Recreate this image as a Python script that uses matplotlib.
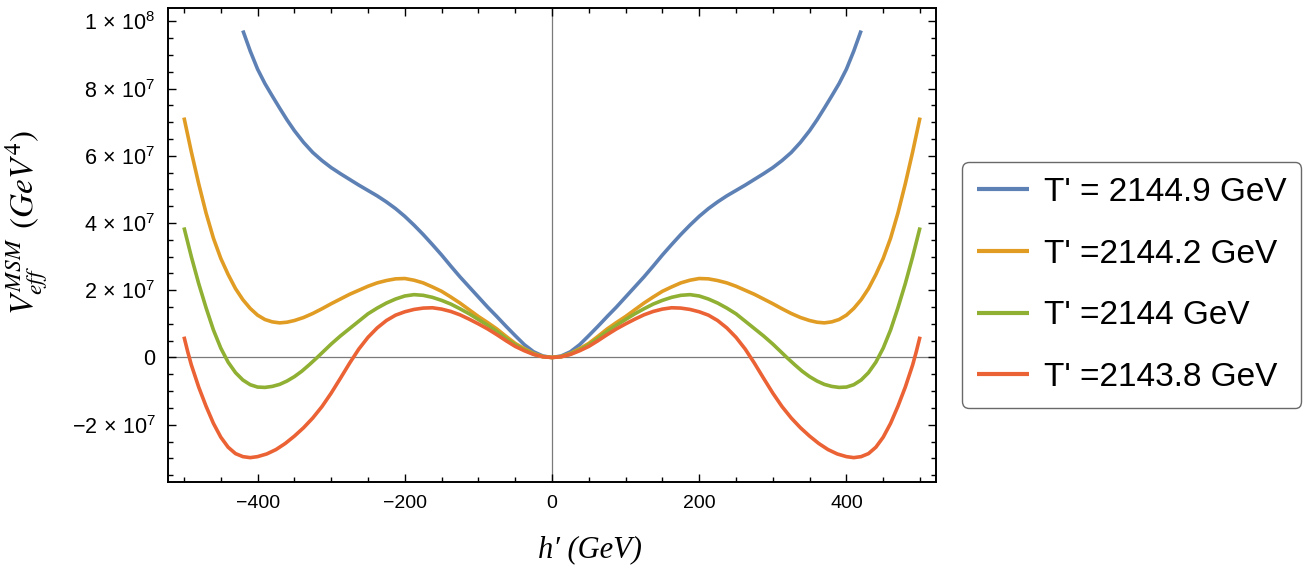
import numpy as np
import matplotlib
matplotlib.use("Agg")
import matplotlib.pyplot as plt
from matplotlib.ticker import MultipleLocator, FuncFormatter

# ---------------------------------------------------------
#  data (h' >= 0 half, curves are symmetric)
#  V values in units of 1e7 GeV^4
# ---------------------------------------------------------
h_blue = [0, 12.5, 25, 37.5, 50, 62.5, 75, 87.5, 100, 112.5, 125, 137.5, 150, 162.5, 175, 187.5,
          200, 212.5, 225, 237.5, 250, 262.5, 275, 287.5, 300, 312.5, 325, 337.5, 350, 360, 370,
          380, 390, 400, 410, 420]
v_blue = [0, 0.045, 0.17, 0.38, 0.65, 0.93, 1.22, 1.5, 1.8, 2.1, 2.4, 2.72, 3.05, 3.36, 3.66, 3.94,
          4.2, 4.43, 4.63, 4.81, 4.97, 5.13, 5.3, 5.47, 5.65, 5.86, 6.1, 6.4, 6.75, 7.07, 7.42,
          7.78, 8.15, 8.58, 9.12, 9.73]

h_orange = [0, 12.5, 25, 37.5, 50, 62.5, 75, 87.5, 100, 112.5, 125, 137.5, 150, 162.5, 175, 187.5,
            200, 212.5, 225, 237.5, 250, 262.5, 275, 287.5, 300, 312.5, 325, 337.5, 350, 360, 370,
            380, 390, 400, 410, 420, 430, 440, 450, 460, 470, 480, 490, 500]
v_orange = [0, 0.03, 0.12, 0.26, 0.42, 0.63, 0.85, 1.04, 1.22, 1.42, 1.62, 1.8, 1.97, 2.1, 2.22, 2.3,
            2.35, 2.34, 2.29, 2.22, 2.12, 2.0, 1.88, 1.74, 1.6, 1.45, 1.31, 1.19, 1.1, 1.05, 1.03,
            1.06, 1.13, 1.26, 1.46, 1.72, 2.05, 2.47, 2.95, 3.55, 4.3, 5.17, 6.12, 7.14]

h_green = [0, 12.5, 25, 37.5, 50, 62.5, 75, 87.5, 100, 112.5, 125, 137.5, 150, 162.5, 175, 187.5,
           200, 212.5, 225, 237.5, 250, 262.5, 275, 287.5, 300, 310, 320, 330, 340, 350, 360, 370,
           380, 390, 400, 410, 420, 430, 440, 450, 460, 470, 480, 490, 500]
v_green = [0, 0.025, 0.1, 0.23, 0.38, 0.57, 0.78, 0.96, 1.13, 1.3, 1.45, 1.59, 1.7, 1.79, 1.85, 1.87,
           1.83, 1.74, 1.62, 1.47, 1.3, 1.08, 0.86, 0.64, 0.4, 0.19, -0.02, -0.22, -0.41, -0.57, -0.7, -0.8,
           -0.86, -0.89, -0.88, -0.81, -0.67, -0.45, -0.14, 0.28, 0.82, 1.48, 2.2, 3.0, 3.87]

h_red = [0, 12.5, 25, 37.5, 50, 62.5, 75, 87.5, 100, 112.5, 125, 137.5, 150, 162.5, 175, 187.5,
         200, 212.5, 225, 237.5, 250, 262.5, 275, 287.5, 300, 312.5, 325, 337.5, 350, 362.5, 375,
         387.5, 400, 410, 420, 430, 440, 450, 460, 470, 480, 490, 495, 500]
v_red = [0, 0.02, 0.09, 0.2, 0.33, 0.5, 0.68, 0.85, 1.0, 1.14, 1.27, 1.37, 1.44, 1.48, 1.47, 1.43,
         1.36, 1.26, 1.1, 0.88, 0.6, 0.25, -0.17, -0.62, -1.06, -1.46, -1.8, -2.09, -2.34, -2.56, -2.74,
         -2.87, -2.95, -2.98, -2.95, -2.86, -2.67, -2.37, -1.96, -1.45, -0.88, -0.22, 0.18, 0.62]

labels = ["T' = 2144.9 GeV", "T' =2144.2 GeV", "T' =2144 GeV", "T' =2143.8 GeV"]
colors = ["#5E81B5", "#E19C24", "#8FB032", "#EB6235"]

xticks = [-400, -200, 0, 200, 400]
yticks = [-2e7, 0, 2e7, 4e7, 6e7, 8e7, 1e8]

# ---------------------------------------------------------
plt.rcParams['font.family'] = ['Liberation Sans', 'DejaVu Sans']
plt.rcParams['mathtext.fontset'] = 'custom'
plt.rcParams['mathtext.rm'] = 'Liberation Sans'
plt.rcParams['mathtext.it'] = 'Liberation Sans:italic'


def mirror(h, v):
    h = np.asarray(h, float)
    v = np.asarray(v, float) * 1e7
    return np.concatenate([-h[::-1], h[1:]]), np.concatenate([v[::-1], v[1:]])


fig = plt.figure(figsize=(13.07, 5.70), dpi=100)
ax = fig.add_axes([168/1307, 88/570, 768/1307, 474/570])

ax.axhline(0, color='#7a7a7a', lw=0.9, zorder=1)
ax.axvline(0, color='#7a7a7a', lw=0.9, zorder=1)

series = [(h_blue, v_blue), (h_orange, v_orange), (h_green, v_green), (h_red, v_red)]
for (h, v), c, lab in zip(series, colors, labels):
    x, y = mirror(h, v)
    ax.plot(x, y, color=c, lw=2.6, label=lab, solid_capstyle='butt', solid_joinstyle='round', zorder=3)

ax.set_xlim(-521.7, 521.7)
ax.set_ylim(-3.705e7, 1.040e8)

ax.set_xticks(xticks)
ax.set_yticks(yticks)
ax.xaxis.set_minor_locator(MultipleLocator(50))
ax.yaxis.set_minor_locator(MultipleLocator(5e6))


def yfmt(v, pos):
    if v == 0:
        return "0"
    e = int(np.floor(np.log10(abs(v))))
    m = v / 10**e
    ms = "%g" % abs(m)
    if m < 0:
        ms = "-" + ms
    return r"$%s\,\times\,10^{%d}$" % (ms, e)


ax.yaxis.set_major_formatter(FuncFormatter(yfmt))
ax.xaxis.set_major_formatter(FuncFormatter(lambda v, p: ("%d" % v).replace("-", "\u2212")))

ax.tick_params(which='both', direction='in', top=True, right=True, width=1.0, colors='black')
ax.tick_params(which='major', length=5.5, pad=9)
ax.tick_params(which='minor', length=3.3)
ax.tick_params(axis='y', labelsize=15.5)
ax.tick_params(axis='x', labelsize=14)
for s in ax.spines.values():
    s.set_linewidth(1.4)

fig.text(590/1307, 1 - 550/570, "h\u2032 (GeV)", fontsize=22, style='italic',
         family=['Liberation Serif', 'DejaVu Serif'], ha='center', va='center')
fig.text(27/1307, 1 - 222/570, r"$V_{eff}^{MSM}\;\,(GeV^{4})$", fontsize=24, math_fontfamily='stix',
         rotation=90, ha='center', va='center')

leg = fig.legend(loc='center left', bbox_to_anchor=(962/1307, 285/570), fontsize=24,
                 handlelength=1.55, handletextpad=0.45, labelspacing=0.92, borderpad=0.45,
                 borderaxespad=0, frameon=True, fancybox=True)
leg.get_frame().set_edgecolor('#444444')
leg.get_frame().set_linewidth(1.0)
for line in leg.get_lines():
    line.set_linewidth(3.0)

plt.savefig("out.png", dpi=100)
